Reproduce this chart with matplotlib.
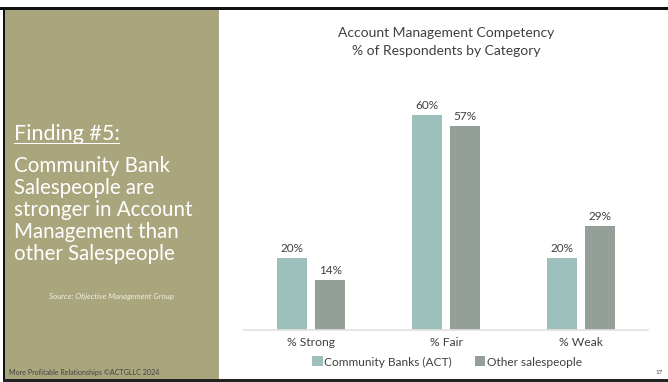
import matplotlib
matplotlib.use("Agg")
import matplotlib.pyplot as plt
from matplotlib.patches import Rectangle
import numpy as np

categories = ["% Strong", "% Fair", "% Weak"]
act_values = [20, 60, 20]
other_values = [14, 57, 29]
series_names = ["Community Banks (ACT)", "Other salespeople"]
value_labels_act = ["20%", "60%", "20%"]
value_labels_other = ["14%", "57%", "29%"]

W, H = 668, 382
fig = plt.figure(figsize=(W / 100, H / 100), dpi=100)
fig.patch.set_facecolor("white")

def fx(x):
    return x / W

def fy(y):
    return 1 - y / H

FONT = "Lato"
TXT = "#404040"
C_ACT = "#9EC0BD"
C_OTH = "#939F97"
OLIVE = "#A9A67E"

# frame lines and sidebar
fig.patches.append(Rectangle((fx(5), fy(379)), fx(219) - fx(5), fy(9) - fy(379),
                             transform=fig.transFigure, facecolor=OLIVE, edgecolor="none", zorder=0))
fig.patches.append(Rectangle((fx(0), fy(9.5)), 1, fy(7) - fy(9.5),
                             transform=fig.transFigure, facecolor="#111111", edgecolor="none", zorder=1))
fig.patches.append(Rectangle((fx(3), fy(382)), fx(5) - fx(3), fy(8) - fy(382),
                             transform=fig.transFigure, facecolor="#111111", edgecolor="none", zorder=1))
fig.patches.append(Rectangle((fx(3), fy(382)), 1, fy(379) - fy(382),
                             transform=fig.transFigure, facecolor="#222222", edgecolor="none", zorder=1))

# axes
ax_left, ax_right, ax_bottom, ax_top = 244, 648, 330, 100
ax = fig.add_axes([fx(ax_left), fy(ax_bottom), fx(ax_right) - fx(ax_left), fy(ax_top) - fy(ax_bottom)])
px_per_pct = 215 / 60
ymax = (ax_bottom - ax_top) / px_per_pct
ax.set_ylim(0, ymax)
ax.set_xlim(-0.5, 2.5)
x = np.arange(len(categories))
unit = (ax_right - ax_left) / 3
bw = 30 / unit
off = 19 / unit
b1 = ax.bar(x - off, act_values, bw, color=C_ACT, label=series_names[0])
b2 = ax.bar(x + off, other_values, bw, color=C_OTH, label=series_names[1])
for xi, v, lab in zip(x - off, act_values, value_labels_act):
    ax.annotate(lab, (xi, v), xytext=(0, 3), textcoords="offset points", ha="center", va="bottom",
                fontsize=8.5, color=TXT, family=FONT)
for xi, v, lab in zip(x + off, other_values, value_labels_other):
    ax.annotate(lab, (xi, v), xytext=(0, 3), textcoords="offset points", ha="center", va="bottom",
                fontsize=8.5, color=TXT, family=FONT)
for s in ["top", "right", "left"]:
    ax.spines[s].set_visible(False)
ax.spines["bottom"].set_color("#E0E0E0")
ax.spines["bottom"].set_linewidth(1.2)
ax.set_yticks([])
ax.set_xticks(x)
ax.set_xticklabels(categories, fontsize=8.7, color=TXT, family=FONT)
ax.tick_params(axis="x", length=0, pad=5)

leg = fig.legend(handles=[b1, b2], labels=series_names, loc="center", bbox_to_anchor=(fx(447), fy(362)),
                 ncol=2, frameon=False, handlelength=0.9, handleheight=0.9,
                 handletextpad=0.15, columnspacing=1.9, prop={"family": FONT, "size": 8.6})
for t in leg.get_texts():
    t.set_color(TXT)

# title
fig.text(fx(446), fy(33), "Account Management Competency", ha="center", va="center",
         fontsize=10, color=TXT, family=FONT)
fig.text(fx(446), fy(51), "% of Respondents by Category", ha="center", va="center",
         fontsize=10, color=TXT, family=FONT)

# sidebar text
ft = fig.text(fx(14), fy(140), "Finding #5:", ha="left", va="baseline", fontsize=15.5, color="white",
              family=FONT)
fig.canvas.draw()
bb = ft.get_window_extent()
fig.patches.append(Rectangle((fx(14), fy(144)), bb.width / W, fy(143) - fy(144),
                             transform=fig.transFigure, facecolor="white", edgecolor="none", zorder=2))
lines = ["Community Bank", "Salespeople are", "stronger in Account", "Management than", "other Salespeople"]
for i, ln in enumerate(lines):
    fig.text(fx(14), fy(172 + i * 22), ln, ha="left", va="baseline", fontsize=14.8, color="white",
             family=FONT)
fig.text(fx(111), fy(296), "Source: Objective Management Group", ha="center", va="center",
         fontsize=5.7, color="#EEEEE0", style="italic", family=FONT)
fig.text(fx(9), fy(373), "More Profitable Relationships \u00a9ACTGLLC 2024", ha="left", va="center",
         fontsize=5.1, color="#404040", family=FONT)
fig.text(fx(659), fy(373), "17", ha="center", va="center", fontsize=4.5, color="#404040", family=FONT)

fig.savefig("out.png", dpi=100, facecolor="white")
